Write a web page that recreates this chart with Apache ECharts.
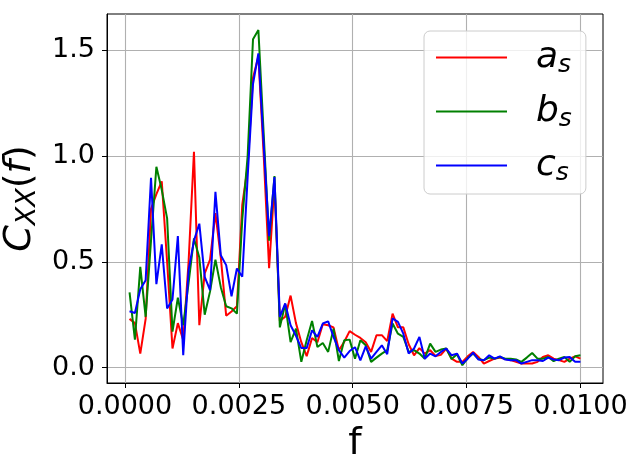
<!DOCTYPE html>
<html><head><meta charset="utf-8">
<script src="https://cdn.jsdelivr.net/npm/echarts@6/dist/echarts.min.js"></script>
<style>html,body{margin:0;padding:0;background:#fff}#c{width:638px;height:470px}</style>
</head><body><div id="c"></div>
<script>
const freq = [0.0001,0.0002179,0.0003357,0.0004536,0.0005714,0.0006893,0.0008071,0.000925,0.0010429,0.0011607,
0.0012786,0.0013964,0.0015143,0.0016321,0.00175,0.0018679,0.0019857,0.0021036,0.0022214,0.0023393,
0.0024571,0.002575,0.0026929,0.0028107,0.0029286,0.0030464,0.0031643,0.0032821,0.0034,0.0035179,
0.0036357,0.0037536,0.0038714,0.0039893,0.0041071,0.004225,0.0043429,0.0044607,0.0045786,0.0046964,
0.0048143,0.0049321,0.00505,0.0051679,0.0052857,0.0054036,0.0055214,0.0056393,0.0057571,0.005875,
0.0059929,0.0061107,0.0062286,0.0063464,0.0064643,0.0065821,0.0067,0.0068179,0.0069357,0.0070536,
0.0071714,0.0072893,0.0074071,0.007525,0.0076429,0.0077607,0.0078786,0.0079964,0.0081143,0.0082321,
0.00835,0.0084679,0.0085857,0.0087036,0.0088214,0.0089393,0.0090571,0.009175,0.0092929,0.0094107,
0.0095286,0.0096464,0.0097643,0.0098821,0.01];
const aS = [0.23,0.21,0.066,0.23,0.75,0.82,0.88,0.5,0.09,0.21,
0.13,0.5,1.02,0.2,0.445,0.51,0.73,0.52,0.245,0.265,
0.29,0.77,0.95,1.37,1.47,1.0,0.47,0.87,0.22,0.24,
0.34,0.21,0.12,0.054,0.14,0.12,0.205,0.2,0.19,0.082,
0.122,0.172,0.155,0.14,0.12,0.074,0.153,0.153,0.125,0.255,
0.19,0.19,0.11,0.058,0.092,0.066,0.082,0.055,0.06,0.09,
0.042,0.027,0.027,0.053,0.074,0.05,0.019,0.031,0.042,0.047,
0.04,0.035,0.027,0.019,0.019,0.019,0.027,0.05,0.058,0.042,
0.035,0.027,0.042,0.053,0.042];
const bS = [0.355,0.132,0.476,0.24,0.6,0.949,0.84,0.705,0.17,0.33,
0.2,0.4,0.61,0.52,0.25,0.36,0.51,0.38,0.29,0.28,
0.255,0.7,1.0,1.552,1.595,1.1,0.6,0.905,0.19,0.3,
0.12,0.184,0.027,0.129,0.22,0.097,0.116,0.074,0.184,0.031,
0.129,0.132,0.042,0.129,0.105,0.027,0.047,0.066,0.082,0.208,
0.16,0.145,0.074,0.082,0.066,0.042,0.113,0.074,0.085,0.09,
0.04,0.063,0.011,0.045,0.066,0.04,0.035,0.047,0.042,0.05,
0.042,0.042,0.038,0.027,0.047,0.069,0.042,0.042,0.05,0.03,
0.042,0.05,0.027,0.053,0.058];
const cS = [0.266,0.258,0.37,0.413,0.897,0.394,0.582,0.279,0.322,0.621,
0.058,0.46,0.6,0.68,0.429,0.366,0.831,0.531,0.484,0.337,
0.468,0.429,0.9,1.34,1.485,1.05,0.621,0.9,0.239,0.303,
0.2,0.15,0.092,0.092,0.176,0.145,0.208,0.218,0.145,0.082,
0.047,0.078,0.096,0.034,0.1,0.042,0.074,0.105,0.063,0.232,
0.216,0.16,0.066,0.09,0.145,0.042,0.066,0.053,0.074,0.09,
0.058,0.066,0.019,0.042,0.07,0.038,0.035,0.058,0.042,0.053,
0.038,0.035,0.035,0.019,0.027,0.035,0.035,0.031,0.047,0.038,
0.035,0.047,0.05,0.027,0.027];
const xTicks = [0, 0.0025, 0.005, 0.0075, 0.01];
const yTicks = [0, 0.5, 1.0, 1.5];
const seriesNames = ['a_s', 'b_s', 'c_s'];
const seriesColors = ['#ff0000', '#008000', '#0000ff'];
const seriesData = [aS, bS, cS];

const FONT = 'DejaVu Sans';
const chart = echarts.init(document.getElementById('c'), null, {renderer: 'canvas'});
const gridStyle = {show: true, lineStyle: {color: '#b0b0b0', width: 1.1, type: 'solid'}};
chart.setOption({
  animation: false,
  backgroundColor: '#ffffff',
  grid: {left: 107, right: 35, top: 14, bottom: 87, show: true, borderColor: '#000', borderWidth: 1,
    containLabel: false, outerBoundsMode: 'none'},
  xAxis: {
    type: 'value', min: -0.000395, max: 0.010495,
    name: 'f', nameLocation: 'middle', nameGap: 42,
    nameTextStyle: {fontFamily: FONT, fontSize: 38, color: '#000'},
    axisLine: {show: true, onZero: false, lineStyle: {color: '#000', width: 1}},
    axisTick: {show: true, inside: false, length: 5, lineStyle: {color: '#000', width: 1}, customValues: xTicks},
    axisLabel: {show: true, margin: 10, fontFamily: FONT, fontSize: 27, color: '#000', customValues: xTicks,
      formatter: v => v.toFixed(4)},
    splitLine: gridStyle
  },
  yAxis: {
    type: 'value', min: -0.073, max: 1.671,
    name: '{i|C}{sub|XX}{n|(}{i|f}{n|)}', nameLocation: 'middle', nameGap: 57, nameRotate: 90,
    nameTextStyle: {fontFamily: FONT, fontSize: 38, color: '#000',
      rich: {
        i: {fontFamily: FONT, fontSize: 38, fontStyle: 'italic', color: '#000'},
        n: {fontFamily: FONT, fontSize: 38, color: '#000'},
        sub: {fontFamily: FONT, fontSize: 27, fontStyle: 'italic', color: '#000', padding: [16, 0, 0, 0]}
      }},
    axisLine: {show: true, onZero: false, lineStyle: {color: '#000', width: 1}},
    axisTick: {show: true, inside: false, length: 5, lineStyle: {color: '#000', width: 1}, customValues: yTicks},
    axisLabel: {show: true, margin: 12, fontFamily: FONT, fontSize: 27, color: '#000', customValues: yTicks,
      formatter: v => v.toFixed(1)},
    splitLine: gridStyle
  },
  legend: {
    orient: 'vertical', left: 424, top: 31,
    padding: [6, 14, 8, 12], itemGap: 13,
    itemWidth: 71, itemHeight: 2.2, icon: 'rect',
    backgroundColor: 'rgba(255,255,255,0.8)', borderColor: '#cccccc', borderWidth: 1, borderRadius: 6,
    data: seriesNames,
    formatter: name => '{m|' + name.split('_')[0] + '}{s|' + name.split('_')[1] + '}',
    textStyle: {
      padding: [0, 0, 0, 24],
      rich: {
        m: {fontFamily: FONT, fontSize: 36, fontStyle: 'italic', color: '#000', lineHeight: 40},
        s: {fontFamily: FONT, fontSize: 25, fontStyle: 'italic', color: '#000', padding: [16, 0, 0, 0], lineHeight: 40}
      }
    }
  },
  series: seriesNames.map((n, k) => ({
    name: n, type: 'line', showSymbol: false, symbol: 'none',
    color: seriesColors[k],
    lineStyle: {color: seriesColors[k], width: 2},
    data: freq.map((f, i) => [f, seriesData[k][i]]),
    z: 2 + k
  }))
});
</script></body></html>
